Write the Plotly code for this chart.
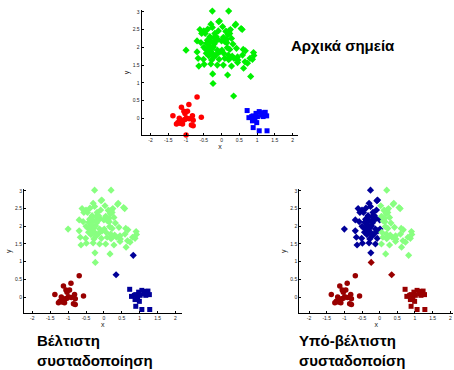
import plotly.graph_objects as go

# ---------------- data ----------------
# Large cluster, left part (x < ~0)
gl_x = [-0.26, -0.06, -0.08, -0.30, -0.61, -0.50, -0.39, -0.26, -0.09, -0.56, -0.46, -0.19,
        -0.33, -0.22, -0.10, -0.69, -0.58, -0.40, -0.30, -0.16, 0.00, -0.69, -0.42, -0.33,
        -0.38, -0.23, -0.12, 0.01, -1.00, -0.43, -0.26, -0.14, -0.05, -0.66, -0.51, -0.28,
        -0.07, -0.64, -0.49, -0.30, -0.12, -0.25, -0.35, -0.28, -0.20, -0.45, -0.32, -0.40,
        -0.50, -0.15, -0.36, -0.22]
gl_y = [3.02, 2.74, 2.72, 2.65, 2.50, 2.46, 2.51, 2.56, 2.46, 2.39, 2.39, 2.39,
        2.30, 2.27, 2.22, 2.18, 2.13, 2.13, 2.16, 2.18, 2.18, 1.87, 2.11, 2.01,
        1.92, 2.01, 1.92, 1.92, 1.92, 1.83, 1.83, 1.80, 1.87, 1.69, 1.66, 1.64,
        1.66, 1.47, 1.52, 1.53, 1.50, 1.25, 2.05, 1.95, 2.10, 1.95, 1.88, 2.20,
        2.00, 2.30, 1.76, 1.72]
# Large cluster, right part (x > ~0)
gr_x = [0.20, 0.40, 0.38, 0.03, 0.14, 0.21, 0.25, 0.55, 0.58, 0.23, 0.05, 0.14,
        0.28, 0.15, 0.32, 0.16, 0.23, 0.42, 0.61, 0.67, 0.90, 0.91, 0.06, 0.19,
        0.35, 0.45, 0.59, 0.80, 0.09, 0.23, 0.46, 0.66, 0.87, 0.05, 0.28, 0.45,
        0.62, 0.73, 0.17, 0.10, 0.12, 0.20, 0.30, 0.18, 0.82]
gr_y = [3.02, 2.65, 2.62, 2.58, 2.44, 2.46, 2.50, 2.53, 2.50, 2.39, 2.28, 2.22,
        2.25, 2.13, 2.09, 1.99, 1.94, 1.97, 1.94, 1.90, 1.85, 1.77, 1.83, 1.78,
        1.69, 1.73, 1.78, 1.69, 1.69, 1.69, 1.64, 1.59, 1.66, 1.50, 1.47, 1.57,
        1.41, 1.55, 1.22, 2.15, 2.45, 1.65, 1.75, 2.35, 1.18]
# Stray points between clusters
go_x = [-0.24, 0.34]
go_y = [0.98, 0.63]
# Lower-left cluster
red_x = [-1.37, -1.13, -0.92, -0.69, -1.06, -0.96, -0.82, -0.57, -1.19, -1.23, -1.17, -1.13,
         -1.08, -1.03, -0.99, -0.91, -1.10, -0.80, -0.85, -0.80, -1.00, -1.27, -1.03, -1.15]
red_y = [0.07, 0.31, 0.39, 0.60, 0.20, 0.20, 0.07, 0.03, 0.00, -0.12, -0.14, -0.09,
         -0.05, -0.03, 0.01, -0.01, -0.16, -0.05, -0.19, -0.21, -0.47, -0.16, 0.14, -0.07]
# Lower-right cluster
blue_x = [0.72, 0.77, 0.89, 0.97, 1.06, 1.15, 1.23, 1.27, 1.13, 1.01, 0.94, 0.87,
          0.99, 0.89, 1.06, 1.28, 1.17, 0.85]
blue_y = [0.22, 0.02, 0.07, 0.14, 0.19, 0.16, 0.17, 0.07, 0.09, 0.05, -0.03, -0.07,
          -0.12, -0.26, -0.35, -0.35, 0.05, 0.05]

x_ticks = [-2, -1.5, -1, -0.5, 0, 0.5, 1, 1.5, 2]
x_labels = ["-2", "-1.5", "-1", "-0.5", "0", "0.5", "1", "1.5", "2"]
y_ticks = [0, 0.5, 1, 1.5, 2, 2.5, 3]
y_labels = ["0", "0.5", "1", "1.5", "2", "2.5", "3"]

GREEN = "#00f000"
RED = "#ff0000"
BLUE = "#0000ff"
LGREEN = "#88ff80"
DRED = "#990000"
DBLUE = "#000099"

fig = go.Figure()


def add(xs, ys, color, symbol, size, xa, ya):
    fig.add_trace(go.Scatter(x=xs, y=ys, mode="markers", xaxis=xa, yaxis=ya,
                             marker=dict(color=color, symbol=symbol, size=size,
                                         line=dict(width=0)),
                             cliponaxis=False, showlegend=False, hoverinfo="skip"))


D, C, S = 5.5, 5.5, 5

# top: initial points
add(gl_x + gr_x + go_x, gl_y + gr_y + go_y, GREEN, "diamond", D, "x", "y")
add(red_x, red_y, RED, "circle", C, "x", "y")
add(blue_x, blue_y, BLUE, "square", S, "x", "y")

# bottom-left: optimal clustering
add(gl_x + gr_x[:-1] + [go_x[0]], gl_y + gr_y[:-1] + [go_y[0]], LGREEN, "diamond", D, "x2", "y2")
add([gr_x[-1], go_x[1]], [gr_y[-1], go_y[1]], DBLUE, "diamond", D, "x2", "y2")
add(red_x, red_y, DRED, "circle", C, "x2", "y2")
add(blue_x, blue_y, DBLUE, "square", S, "x2", "y2")

# bottom-right: sub-optimal clustering
add(gl_x, gl_y, DBLUE, "diamond", D, "x3", "y3")
add(gr_x, gr_y, LGREEN, "diamond", D, "x3", "y3")
add(go_x, go_y, DRED, "diamond", D, "x3", "y3")
add(red_x, red_y, DRED, "circle", C, "x3", "y3")
add(blue_x, blue_y, DRED, "square", S, "x3", "y3")

tickfont = dict(size=5, color="#222", family="Liberation Sans, Arial")
titlefont = dict(size=7, color="#222", family="Liberation Sans, Arial")


def xax(domain, rng, anchor):
    return dict(domain=domain, range=rng, anchor=anchor, tickvals=x_ticks, ticktext=x_labels,
                showline=True, linecolor="black", linewidth=1, ticks="inside", ticklen=2,
                tickcolor="black", showgrid=False, zeroline=False, tickfont=tickfont,
                automargin=False,
                title=dict(text="x", font=titlefont, standoff=1), fixedrange=True)


def yax(domain, rng, anchor):
    return dict(domain=domain, range=rng, anchor=anchor, tickvals=y_ticks, ticktext=y_labels,
                showline=True, linecolor="black", linewidth=1, ticks="inside", ticklen=2,
                tickcolor="black", showgrid=False, zeroline=False, tickfont=tickfont,
                automargin=False,
                title=dict(text="y", font=titlefont, standoff=2), fixedrange=True)


fig.update_layout(
    width=454, height=370, autosize=False,
    margin=dict(l=0, r=0, t=0, b=0, autoexpand=False),
    paper_bgcolor="white", plot_bgcolor="white",
    xaxis=xax([0.312, 0.657], [-2.25, 2.16], "y"),
    yaxis=yax([0.635, 0.973], [-0.47, 3.05], "x"),
    xaxis2=xax([0.053, 0.400], [-2.23, 2.17], "y2"),
    yaxis2=yax([0.153, 0.489], [-0.46, 3.05], "x2"),
    xaxis3=xax([0.659, 0.998], [-2.28, 2.08], "y3"),
    yaxis3=yax([0.153, 0.489], [-0.46, 3.05], "x3"),
    annotations=[
        dict(text="<b>Αρχικά σημεία</b>", x=0.637, y=0.876, xref="paper", yref="paper",
             xanchor="left", yanchor="middle", showarrow=False, align="left",
             font=dict(size=15, color="black", family="Liberation Sans, Arial")),
        dict(text="<b>Βέλτιστη<br>συσταδοποίηση</b>", x=0.077, y=0.053, xref="paper", yref="paper",
             xanchor="left", yanchor="middle", showarrow=False, align="left",
             font=dict(size=15, color="black", family="Liberation Sans, Arial")),
        dict(text="<b>Υπό-βέλτιστη<br>συσταδοποίση</b>", x=0.654, y=0.053, xref="paper", yref="paper",
             xanchor="left", yanchor="middle", showarrow=False, align="left",
             font=dict(size=15, color="black", family="Liberation Sans, Arial")),
    ],
)

fig.write_html("out.html", config={"displayModeBar": False},
               post_script="document.body.style.margin='0px';")
